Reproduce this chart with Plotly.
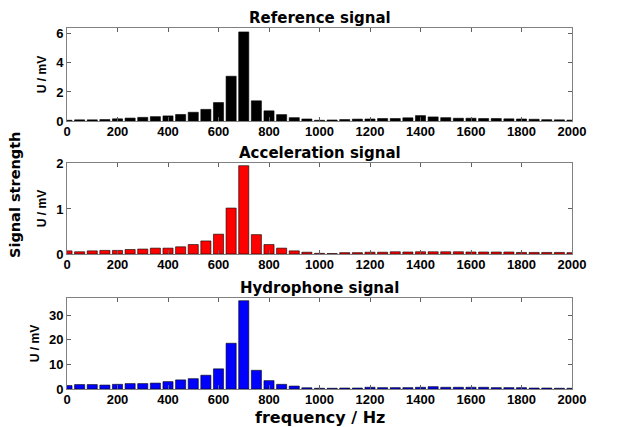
import plotly.graph_objects as go

freq = list(range(0, 2001, 50))

reference = [0.05, 0.08, 0.08, 0.10, 0.15, 0.20, 0.25, 0.30, 0.35, 0.45, 0.60, 0.80, 1.27, 3.08, 6.13,
             1.39, 0.70, 0.44, 0.23, 0.14, 0.05, 0.07, 0.10, 0.13, 0.14, 0.17, 0.17, 0.22, 0.37, 0.28,
             0.23, 0.19, 0.19, 0.17, 0.17, 0.15, 0.14, 0.12, 0.09, 0.08, 0.06]

acceleration = [0.07, 0.05, 0.07, 0.08, 0.08, 0.10, 0.11, 0.13, 0.13, 0.16, 0.21, 0.29, 0.44, 1.02, 1.96,
                0.43, 0.21, 0.13, 0.07, 0.04, 0.015, 0.01, 0.03, 0.03, 0.04, 0.04, 0.05, 0.045, 0.05, 0.05,
                0.05, 0.05, 0.045, 0.045, 0.045, 0.045, 0.035, 0.035, 0.035, 0.035, 0.03]

hydrophone = [1.4, 1.8, 1.8, 1.6, 1.9, 2.2, 2.2, 2.4, 3.0, 3.7, 4.2, 5.6, 8.2, 18.6, 35.9,
              7.6, 3.4, 1.9, 1.2, 0.5, 0.3, 0.3, 0.4, 0.4, 0.7, 0.55, 0.55, 0.55, 0.7, 0.95,
              0.7, 0.7, 0.7, 0.7, 0.55, 0.55, 0.55, 0.4, 0.4, 0.3, 0.3]

titles = ["Reference signal", "Acceleration signal", "Hydrophone signal"]
colors = ["#000000", "#ff0000", "#0000ff"]
series = [reference, acceleration, hydrophone]
yranges = [[0, 6.4], [0, 2.02], [0, 37]]
ytickvals = [[0, 2, 4, 6], [0, 1, 2], [0, 10, 20, 30]]
xticks = list(range(0, 2001, 200))

W, H = 623, 427
xdom = [67 / W, 572 / W]
ydoms = [[1 - 121 / H, 1 - 28 / H], [1 - 254 / H, 1 - 163 / H], [1 - 389 / H, 1 - 298 / H]]

FONT = "Liberation Sans, Arial, sans-serif"
TFONT = "DejaVu Sans, Verdana, sans-serif"

fig = go.Figure()
layout = dict(width=W, height=H, margin=dict(l=0, r=0, t=0, b=0, autoexpand=False),
              paper_bgcolor="white", plot_bgcolor="white", showlegend=False,
              font=dict(family=FONT, color="black"), bargap=0.2)

annotations = []
for i in range(3):
    xa = "x" if i == 0 else f"x{i+1}"
    ya = "y" if i == 0 else f"y{i+1}"
    fig.add_trace(go.Bar(x=freq, y=series[i], xaxis=xa, yaxis=ya,
                         marker=dict(color=colors[i], line=dict(color="black", width=0.6)),
                         width=40))
    axis_common = dict(showline=True, linecolor="#808080", linewidth=1, mirror="ticks",
                       ticks="inside", ticklen=4, tickcolor="#606060", showgrid=False,
                       zeroline=False, automargin=False,
                       tickfont=dict(family=FONT, size=13, color="black", weight="bold"))
    layout["xaxis" if i == 0 else f"xaxis{i+1}"] = dict(
        domain=xdom, anchor=ya, range=[0, 2000], tickvals=xticks,
        ticktext=[str(t) for t in xticks], ticklabelstandoff=-2, **axis_common)
    layout["yaxis" if i == 0 else f"yaxis{i+1}"] = dict(
        domain=ydoms[i], anchor=xa, range=yranges[i], tickvals=ytickvals[i],
        title=dict(text="U / mV", font=dict(family=FONT, size=12, color="black", weight="bold"), standoff=6),
        **axis_common)
    annotations.append(dict(text=titles[i], xref="paper", yref="paper",
                            x=(xdom[0] + xdom[1]) / 2, y=ydoms[i][1], yanchor="bottom",
                            yshift=-1, showarrow=False,
                            font=dict(family=TFONT, size=15, color="black", weight="bold")))

annotations.append(dict(text="frequency / Hz", xref="paper", yref="paper",
                        x=(xdom[0] + xdom[1]) / 2, y=0, yanchor="bottom", yshift=-2, showarrow=False,
                        font=dict(family=TFONT, size=16, color="black", weight="bold")))
annotations.append(dict(text="Signal strength", xref="paper", yref="paper",
                        x=15 / W, y=1 - 195 / H, textangle=-90, showarrow=False,
                        xanchor="center", yanchor="middle",
                        font=dict(family=TFONT, size=14.5, color="black", weight="bold")))
layout["annotations"] = annotations
fig.update_layout(**layout)
fig.write_html("out.html")
